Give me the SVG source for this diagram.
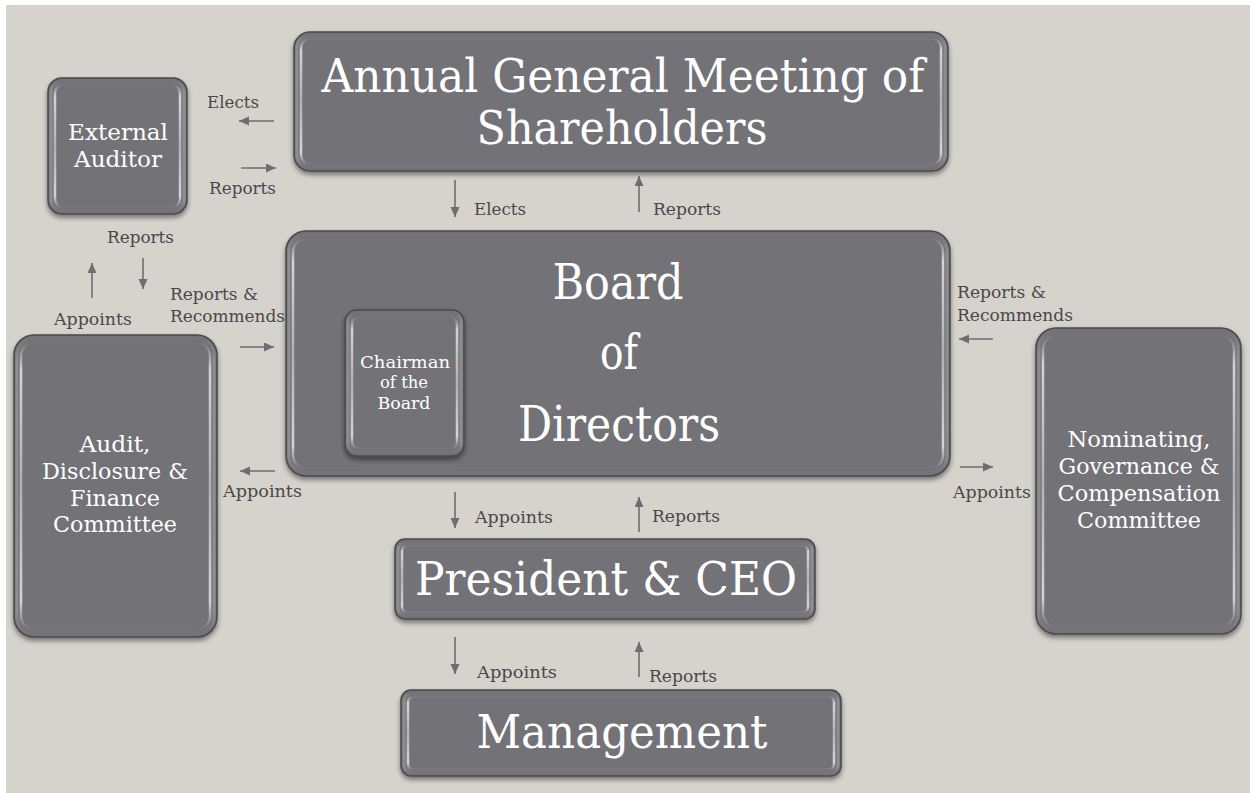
<svg xmlns="http://www.w3.org/2000/svg" width="1250" height="793" viewBox="0 0 1250 793">
<defs>
<style>
.box{fill:#737277;stroke:#4a494e;stroke-width:1.5}
.ring{fill:none;stroke:url(#vring);stroke-width:3}
.hl{fill:none;stroke:url(#vfade);stroke-width:2.5}
.t{font-family:"DejaVu Serif","Liberation Serif",serif;fill:#ffffff;text-anchor:middle}
.lbl{font-family:"DejaVu Serif","Liberation Serif",serif;fill:#48484a;font-size:16.5px}
.ar{stroke:#6e6d72;stroke-width:1.6;fill:none;marker-end:url(#ah)}
</style>
<linearGradient id="vfade" x1="0" y1="0" x2="0" y2="1">
<stop offset="0" stop-color="#ffffff" stop-opacity="0"/>
<stop offset="0.1" stop-color="#ffffff" stop-opacity="0.7"/>
<stop offset="0.5" stop-color="#ffffff" stop-opacity="0.45"/>
<stop offset="0.9" stop-color="#ffffff" stop-opacity="0.7"/>
<stop offset="1" stop-color="#ffffff" stop-opacity="0"/>
</linearGradient>
<linearGradient id="vring" x1="0" y1="0" x2="0" y2="1">
<stop offset="0" stop-color="#8e8d92" stop-opacity="0"/>
<stop offset="0.08" stop-color="#8e8d92" stop-opacity="1"/>
<stop offset="0.92" stop-color="#8e8d92" stop-opacity="1"/>
<stop offset="1" stop-color="#8e8d92" stop-opacity="0"/>
</linearGradient>
<filter id="sh" x="-10%" y="-10%" width="120%" height="130%">
<feDropShadow dx="0" dy="3" stdDeviation="2.5" flood-color="#000" flood-opacity="0.45"/>
</filter>
<marker id="ah" markerUnits="userSpaceOnUse" markerWidth="12" markerHeight="10" refX="10" refY="4.5" orient="auto">
<path d="M0,0 L10,4.5 L0,9 z" fill="#6e6d72"/>
</marker>
</defs>
<rect x="0" y="0" width="1250" height="793" fill="#ffffff"/>
<rect x="6" y="5" width="1244" height="788" fill="#d6d3cd"/>

<g id="agm">
<rect class="box" x="294" y="32" width="654" height="139" rx="16" filter="url(#sh)"/>
<rect class="ring" x="297" y="35" width="648" height="133" rx="13"/>
<rect class="hl" x="301" y="38" width="640" height="127" rx="10"/>
<text class="t" x="623" y="92" font-size="46" textLength="603" lengthAdjust="spacingAndGlyphs">Annual General Meeting of</text>
<text class="t" x="622" y="144" font-size="46" textLength="291" lengthAdjust="spacingAndGlyphs">Shareholders</text>
</g>

<g id="ext">
<rect class="box" x="48" y="78" width="139" height="136" rx="14" filter="url(#sh)"/>
<rect class="ring" x="51" y="81" width="133" height="130" rx="11"/>
<rect class="hl" x="55" y="84" width="125" height="124" rx="9"/>
<text class="t" x="118" y="140" font-size="22.5" textLength="100" lengthAdjust="spacingAndGlyphs">External</text>
<text class="t" x="118" y="167" font-size="22.5" textLength="88" lengthAdjust="spacingAndGlyphs">Auditor</text>
</g>

<g id="board">
<rect class="box" x="286" y="231" width="664" height="245" rx="20" filter="url(#sh)"/>
<rect class="ring" x="289" y="234" width="658" height="239" rx="17"/>
<rect class="hl" x="293" y="238" width="650" height="231" rx="14"/>
<text class="t" x="618" y="299" font-size="48" textLength="131" lengthAdjust="spacingAndGlyphs">Board</text>
<text class="t" x="619" y="369" font-size="48" textLength="38" lengthAdjust="spacingAndGlyphs">of</text>
<text class="t" x="619" y="441" font-size="48" textLength="202" lengthAdjust="spacingAndGlyphs">Directors</text>
</g>

<g id="chair">
<rect class="box" x="345" y="310" width="119" height="146" rx="12" filter="url(#sh)"/>
<rect class="ring" x="348" y="313" width="113" height="140" rx="9"/>
<rect class="hl" x="352" y="317" width="105" height="132" rx="7"/>
<text class="t" x="405" y="368" font-size="16.5" textLength="90" lengthAdjust="spacingAndGlyphs">Chairman</text>
<text class="t" x="404" y="388" font-size="16.5" textLength="48" lengthAdjust="spacingAndGlyphs">of the</text>
<text class="t" x="404" y="409" font-size="16.5" textLength="53" lengthAdjust="spacingAndGlyphs">Board</text>
</g>

<g id="audit">
<rect class="box" x="14" y="335" width="203" height="302" rx="20" filter="url(#sh)"/>
<rect class="ring" x="17" y="338" width="197" height="296" rx="17"/>
<rect class="hl" x="21" y="342" width="189" height="288" rx="14"/>
<text class="t" x="115" y="452" font-size="22.5" textLength="71" lengthAdjust="spacingAndGlyphs">Audit,</text>
<text class="t" x="115" y="479" font-size="22.5" textLength="146" lengthAdjust="spacingAndGlyphs">Disclosure &amp;</text>
<text class="t" x="115" y="506" font-size="22.5" textLength="90" lengthAdjust="spacingAndGlyphs">Finance</text>
<text class="t" x="115" y="532" font-size="22.5" textLength="124" lengthAdjust="spacingAndGlyphs">Committee</text>
</g>

<g id="nom">
<rect class="box" x="1036" y="328" width="205" height="306" rx="20" filter="url(#sh)"/>
<rect class="ring" x="1039" y="331" width="199" height="300" rx="17"/>
<rect class="hl" x="1043" y="335" width="191" height="292" rx="14"/>
<text class="t" x="1139" y="447" font-size="22.5" textLength="143" lengthAdjust="spacingAndGlyphs">Nominating,</text>
<text class="t" x="1139" y="474" font-size="22.5" textLength="161" lengthAdjust="spacingAndGlyphs">Governance &amp;</text>
<text class="t" x="1139" y="501" font-size="22.5" textLength="163" lengthAdjust="spacingAndGlyphs">Compensation</text>
<text class="t" x="1139" y="528" font-size="22.5" textLength="124" lengthAdjust="spacingAndGlyphs">Committee</text>
</g>

<g id="pres">
<rect class="box" x="395" y="539" width="420" height="80" rx="10" filter="url(#sh)"/>
<rect class="ring" x="398" y="542" width="414" height="74" rx="8"/>
<rect class="hl" x="402" y="545" width="406" height="68" rx="6"/>
<text class="t" x="606" y="595" font-size="46" textLength="382" lengthAdjust="spacingAndGlyphs">President &amp; CEO</text>
</g>

<g id="mgmt">
<rect class="box" x="401" y="690" width="440" height="86" rx="10" filter="url(#sh)"/>
<rect class="ring" x="404" y="693" width="434" height="80" rx="8"/>
<rect class="hl" x="408" y="696" width="426" height="74" rx="6"/>
<text class="t" x="622" y="748" font-size="46" textLength="291" lengthAdjust="spacingAndGlyphs">Management</text>
</g>

<g id="connectors">
<line class="ar" x1="274" y1="121" x2="239" y2="121"/>
<line class="ar" x1="241" y1="168" x2="276" y2="168"/>
<line class="ar" x1="92" y1="298" x2="92" y2="263"/>
<line class="ar" x1="143" y1="258" x2="143" y2="289"/>
<line class="ar" x1="240" y1="347" x2="274" y2="347"/>
<line class="ar" x1="275" y1="471" x2="240" y2="471"/>
<line class="ar" x1="455" y1="180" x2="455" y2="217"/>
<line class="ar" x1="639" y1="212" x2="639" y2="176"/>
<line class="ar" x1="993" y1="339" x2="959" y2="339"/>
<line class="ar" x1="960" y1="467" x2="993" y2="467"/>
<line class="ar" x1="455" y1="492" x2="455" y2="528"/>
<line class="ar" x1="639" y1="532" x2="639" y2="497"/>
<line class="ar" x1="455" y1="637" x2="455" y2="674"/>
<line class="ar" x1="639" y1="677" x2="639" y2="642"/>
<text class="lbl" x="207" y="108" textLength="52" lengthAdjust="spacingAndGlyphs">Elects</text>
<text class="lbl" x="209" y="194" textLength="67" lengthAdjust="spacingAndGlyphs">Reports</text>
<text class="lbl" x="107" y="243" textLength="67" lengthAdjust="spacingAndGlyphs">Reports</text>
<text class="lbl" x="54" y="325" textLength="78" lengthAdjust="spacingAndGlyphs">Appoints</text>
<text class="lbl" x="170" y="300" textLength="88" lengthAdjust="spacingAndGlyphs">Reports &amp;</text>
<text class="lbl" x="170" y="322" textLength="115" lengthAdjust="spacingAndGlyphs">Recommends</text>
<text class="lbl" x="223" y="497" textLength="79" lengthAdjust="spacingAndGlyphs">Appoints</text>
<text class="lbl" x="474" y="215" textLength="52" lengthAdjust="spacingAndGlyphs">Elects</text>
<text class="lbl" x="653" y="215" textLength="68" lengthAdjust="spacingAndGlyphs">Reports</text>
<text class="lbl" x="957" y="298" textLength="89" lengthAdjust="spacingAndGlyphs">Reports &amp;</text>
<text class="lbl" x="957" y="321" textLength="116" lengthAdjust="spacingAndGlyphs">Recommends</text>
<text class="lbl" x="953" y="498" textLength="78" lengthAdjust="spacingAndGlyphs">Appoints</text>
<text class="lbl" x="475" y="523" textLength="78" lengthAdjust="spacingAndGlyphs">Appoints</text>
<text class="lbl" x="652" y="522" textLength="68" lengthAdjust="spacingAndGlyphs">Reports</text>
<text class="lbl" x="477" y="678" textLength="80" lengthAdjust="spacingAndGlyphs">Appoints</text>
<text class="lbl" x="649" y="682" textLength="68" lengthAdjust="spacingAndGlyphs">Reports</text>
</g>
</svg>
